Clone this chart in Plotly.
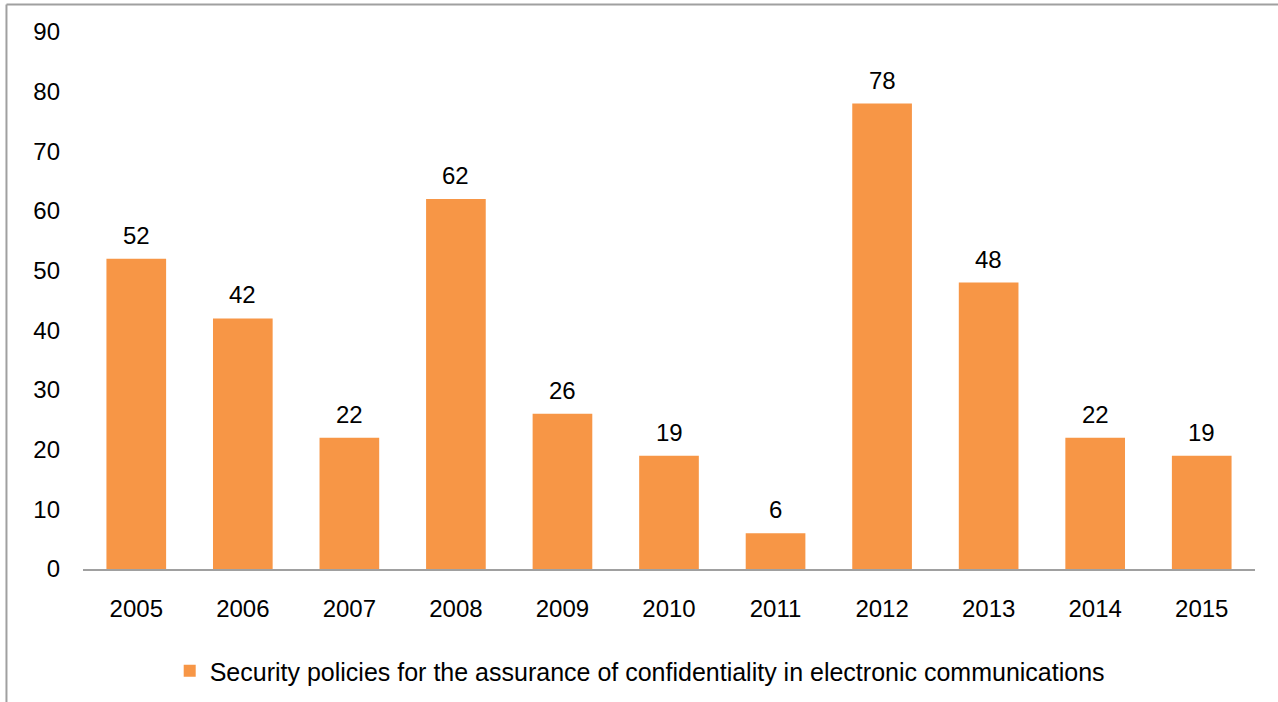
import plotly.graph_objects as go

years = ["2005", "2006", "2007", "2008", "2009", "2010", "2011", "2012", "2013", "2014", "2015"]
values = [52, 42, 22, 62, 26, 19, 6, 78, 48, 22, 19]
series_name = "Security policies for the assurance of confidentiality in electronic communications"
y_ticks = [0, 10, 20, 30, 40, 50, 60, 70, 80, 90]

font_family = "Liberation Sans, Arial, sans-serif"

fig = go.Figure()
fig.add_trace(go.Bar(
    x=years, y=values, name=series_name,
    marker=dict(color="#F79646", line=dict(width=0)),
    cliponaxis=False,
))

# value labels placed at each category (by index) above its bar
for i, v in enumerate(values):
    fig.add_annotation(x=i, y=v, text=str(v), showarrow=False, xref="x", yref="y",
                       yanchor="bottom", yshift=8,
                       font=dict(family=font_family, size=24, color="#000000"))

fig.update_layout(
    width=1278, height=702,
    margin=dict(l=83, r=23, t=32, b=133, autoexpand=False),
    paper_bgcolor="white", plot_bgcolor="white",
    bargap=0.44,
    showlegend=True,
    legend=dict(orientation="h", x=0.475, xanchor="center", y=-0.19, yanchor="middle",
                font=dict(family=font_family, size=25, color="#000000"),
                itemwidth=30),
    font=dict(family=font_family, size=24, color="#000000"),
)
fig.update_xaxes(type="category", range=[-0.5, 10.5], showline=True, linecolor="#A0A0A0", linewidth=2,
                 ticks="", showgrid=False, tickfont=dict(size=24), ticklabelstandoff=17,
                 automargin=False)
fig.update_yaxes(range=[0, 90], tickvals=y_ticks, showline=False, showgrid=False,
                 zeroline=False, ticks="", tickfont=dict(size=24), ticklabelstandoff=22,
                 automargin=False)

# outer border (left and top edges visible)
fig.add_shape(type="line", xref="paper", yref="paper", x0=-0.0653, x1=1.05, y0=1.0512, y1=1.0512,
              line=dict(color="#A0A0A0", width=2))
fig.add_shape(type="line", xref="paper", yref="paper", x0=-0.0653, x1=-0.0653, y0=1.0512, y1=-0.3,
              line=dict(color="#A0A0A0", width=2))

fig.write_html("out.html", config={"displayModeBar": False},
               post_script="document.body.style.margin='0';")
